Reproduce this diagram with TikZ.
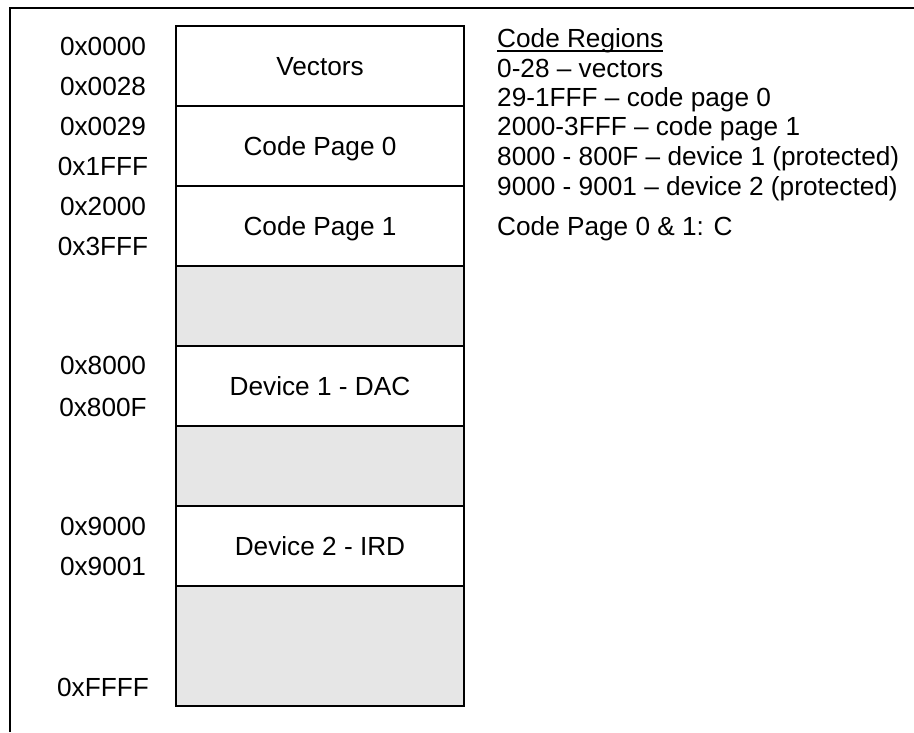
\documentclass[tikz,border=0pt]{standalone}
\usepackage{fontspec}
\setmainfont{Liberation Sans}
\definecolor{cellgrey}{HTML}{E6E6E6}
\begin{document}
\begin{tikzpicture}[x=1pt,y=-1pt,
  txt/.style={font=\fontsize{26.2}{26.2}\selectfont, inner sep=0pt, text height=18.7pt, text depth=0pt},
  cell/.style={txt, draw=black, line width=2pt, minimum width=288pt, minimum height=80pt},
  emptycell/.style={cell, fill=cellgrey},
  frameline/.style={line width=2pt},
  rtxt/.style={txt, anchor=base west}
]
\useasboundingbox (0,0) rectangle (914,732);
% frame
\coordinate (fbl) at (10,732);
\coordinate (ftl) at (10,7.5);
\coordinate (ftr) at (914,7.5);
\draw[frameline] (fbl) -- (ftl) -- (ftr);
% memory cells
\node[cell] (vec) at (320,66) {Vectors};
\node[cell] (cp0) at (320,146) {Code Page 0};
\node[cell] (cp1) at (320,226) {Code Page 1};
\node[emptycell] (g1) at (320,306) {};
\node[cell] (dev1) at (320,386) {Device 1 - DAC};
\node[emptycell] (g2) at (320,466) {};
\node[cell] (dev2) at (320,546) {Device 2 - IRD};
\node[emptycell, minimum height=120pt] (g3) at (320,646) {};
% address labels
\node[txt] (a1) at (103,46) {0x0000};
\node[txt] (a2) at (103,86.5) {0x0028};
\node[txt] (a3) at (103,126.5) {0x0029};
\node[txt] (a4) at (103,166) {0x1FFF};
\node[txt] (a5) at (103,206) {0x2000};
\node[txt] (a6) at (103,246) {0x3FFF};
\node[txt] (a7) at (103,365) {0x8000};
\node[txt] (a8) at (103,407) {0x800F};
\node[txt] (a9) at (103,526) {0x9000};
\node[txt] (a10) at (103,566) {0x9001};
\node[txt] (a11) at (103,687) {0xFFFF};
% code regions text
\node[rtxt] (cr) at (497,47.3) {Code Regions};
\draw[line width=1.5pt] ([yshift=-3.5pt]cr.base west) -- ([yshift=-3.5pt]cr.base east);
\node[rtxt] (r1) at (497,77.3) {0-28 – vectors};
\node[rtxt] (r2) at (497,106.3) {29-1FFF – code page 0};
\node[rtxt] (r3) at (497,135.3) {2000-3FFF – code page 1};
\node[rtxt] (r4) at (497,165.3) {8000 - 800F – device 1 (protected)};
\node[rtxt] (r5) at (497,195.3) {9000 - 9001 – device 2 (protected)};
\node[rtxt] (r6) at (497,235.3) {Code Page 0 \& 1: C};
\end{tikzpicture}
\end{document}
